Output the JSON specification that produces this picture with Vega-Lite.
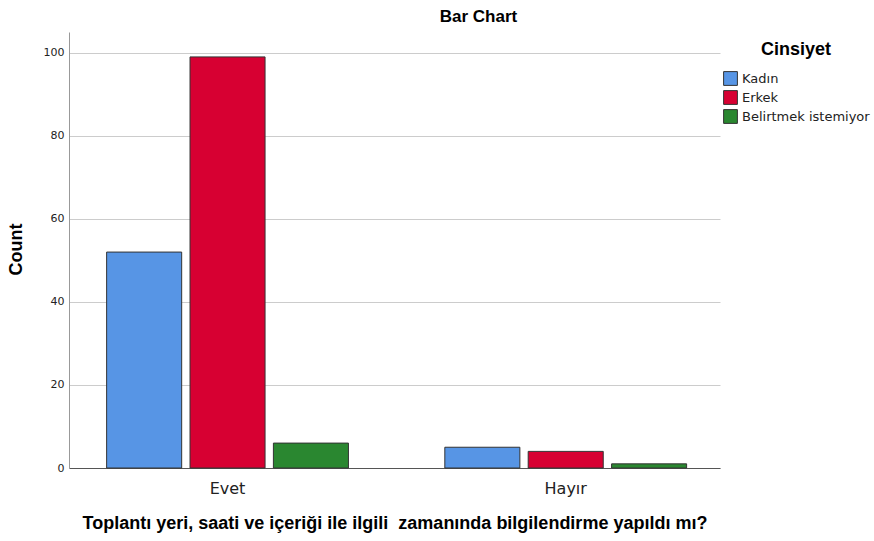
{
  "$schema": "https://vega.github.io/schema/vega-lite/v6.json",
  "width": 651,
  "height": 436,
  "autosize": "none",
  "padding": {"left": 69, "top": 32, "right": 154, "bottom": 73},
  "background": "white",
  "title": {"text": "Bar Chart", "font": "Liberation Sans", "fontSize": 17, "fontWeight": "bold", "color": "#000000", "anchor": "middle", "dx": 84, "offset": 6},
  "data": {"values": [
    {"q": "Evet", "Cinsiyet": "Kadın", "count": 52},
    {"q": "Evet", "Cinsiyet": "Erkek", "count": 99},
    {"q": "Evet", "Cinsiyet": "Belirtmek istemiyor", "count": 6},
    {"q": "Hayır", "Cinsiyet": "Kadın", "count": 5},
    {"q": "Hayır", "Cinsiyet": "Erkek", "count": 4},
    {"q": "Hayır", "Cinsiyet": "Belirtmek istemiyor", "count": 1}
  ]},
  "mark": {"type": "bar", "stroke": "#333333", "strokeWidth": 1},
  "encoding": {
    "x": {"field": "q", "type": "nominal", "sort": ["Evet", "Hayır"],
      "scale": {"paddingInner": 0.285, "paddingOuter": 0.105, "align": 0.53},
      "axis": {"title": "Toplantı yeri, saati ve içeriği ile ilgili\u00a0 zamanında bilgilendirme yapıldı mı?", "labelAngle": 0, "labelFont": "DejaVu Sans", "labelFontSize": 16, "labelColor": "#222222", "labelPadding": 12, "ticks": false, "domainColor": "#555555", "titleFont": "Liberation Sans", "titleFontSize": 18, "titleFontWeight": "bold", "titleColor": "#000000", "titlePadding": 18}},
    "xOffset": {"field": "Cinsiyet", "type": "nominal", "sort": ["Kadın", "Erkek", "Belirtmek istemiyor"], "scale": {"paddingInner": 0.1, "paddingOuter": 0}},
    "y": {"field": "count", "type": "quantitative",
      "scale": {"domain": [0, 105], "nice": false},
      "axis": {"title": "Count", "values": [0, 20, 40, 60, 80, 100], "labelFont": "DejaVu Sans", "labelFontSize": 11, "labelColor": "#222222", "ticks": false, "labelPadding": 5, "domainColor": "#999999", "gridColor": "#cccccc", "gridWidth": 1, "titleFont": "Liberation Sans", "titleFontSize": 18, "titleFontWeight": "bold", "titleColor": "#000000", "titleX": -53, "titleY": 217, "titleBaseline": "middle"}},
    "color": {"field": "Cinsiyet", "type": "nominal", "sort": ["Kadın", "Erkek", "Belirtmek istemiyor"],
      "scale": {"domain": ["Kadın", "Erkek", "Belirtmek istemiyor"], "range": ["#5795e5", "#d70032", "#2a8730"]},
      "legend": {"orient": "none", "legendX": 654, "legendY": 9, "title": "Cinsiyet", "titleFont": "Liberation Sans", "titleFontSize": 18, "titleFontWeight": "bold", "titleColor": "#000000", "titlePadding": 12, "titleAnchor": "middle", "labelFont": "DejaVu Sans", "labelFontSize": 13, "labelColor": "#222222", "symbolType": "square", "symbolSize": 190, "symbolStrokeColor": "#333333", "symbolStrokeWidth": 1, "rowPadding": 0, "labelOffset": 4}}
  },
  "config": {"view": {"stroke": null}, "axis": {"grid": true}, "axisX": {"grid": false}}
}
